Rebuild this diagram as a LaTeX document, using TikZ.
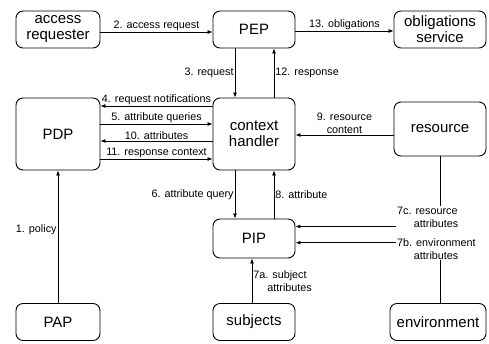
\documentclass[tikz,border=0pt]{standalone}
\usepackage{fontspec}
\setmainfont{Liberation Sans}
\usetikzlibrary{arrows.meta,calc}
\begin{document}
\begin{tikzpicture}[x=1pt,y=-1pt,
  box/.style={draw,line width=0.9pt,rounded corners=7pt,align=center,inner sep=0pt,
    font=\fontsize{15}{16}\selectfont},
  arr/.style={line width=0.8pt,-{Latex[length=5pt,width=4pt]}},
  ln/.style={line width=0.8pt},
  lbl/.style={font=\fontsize{10.8}{12.5}\selectfont,inner sep=1pt},
  lbl2/.style={lbl,font=\fontsize{10.8}{13}\selectfont},
]
\useasboundingbox (0,0) rectangle (489,343);
\node[box,minimum width=84pt,minimum height=37pt] (acc) at (58,29.5) {access\\requester};
\node[box,minimum width=82pt,minimum height=37pt] (pep) at (254,29.5) {PEP};
\node[box,minimum width=92pt,minimum height=37pt] (obl) at (440,29.5) {obligations\\service};
\node[box,minimum width=84pt,minimum height=72pt] (pdp) at (58,134) {PDP};
\node[box,minimum width=82pt,minimum height=72pt] (ch) at (254,134) {context\\handler};
\node[box,minimum width=92pt,minimum height=54pt] (res) at (440,129) {resource};
\node[box,minimum width=82pt,minimum height=39pt] (pip) at (254,238.5) {PIP};
\node[box,minimum width=84pt,minimum height=37pt] (pap) at (58,322) {PAP};
\node[box,minimum width=82pt,minimum height=37pt] (sub) at (254,322) {subjects};
\node[box,minimum width=96pt,minimum height=37pt] (env) at (438,322) {environment};

% 2 and 13
\draw[arr] ([yshift=-2.5pt]acc.east) -- node[lbl,above] {2. access request} ([yshift=-2.5pt]acc.east -| pep.west);
\draw[arr] ([yshift=-1.5pt]pep.east) -- node[lbl,above] {13. obligations} ([yshift=-1.5pt]pep.east -| obl.west);
% 3 and 12
\draw[arr] ([xshift=-19pt]pep.south) -- node[lbl,left] {3. request} ([xshift=-19pt]ch.north);
\draw[arr] ([xshift=20pt]ch.north) -- node[lbl,right] {12. response} ([xshift=20pt]pep.south);
% 4,5,10,11
\draw[arr] ([yshift=28pt]ch.west) -- node[lbl,above,inner sep=0.5pt] {4. request notifications} ([yshift=28pt]ch.west -| pdp.east);
\draw[arr] ([yshift=10pt]pdp.east) -- node[lbl,above,inner sep=0.5pt] {5. attribute queries} ([yshift=10pt]pdp.east -| ch.west);
\draw[arr] ([yshift=-7pt]ch.west) -- node[lbl,above,inner sep=0.5pt] {10. attributes} ([yshift=-7pt]ch.west -| pdp.east);
\draw[arr] ([yshift=-25pt]pdp.east) -- node[lbl,above,inner sep=0.5pt] {11. response context} ([yshift=-25pt]pdp.east -| ch.west);
% 9
\draw[arr] ([yshift=-6pt]res.west) -- node[lbl2,above,align=center] {9. resource\\content} ([yshift=-6pt]res.west -| ch.east);
% 6 and 8
\draw[arr] ([xshift=-19pt]ch.south) -- node[lbl,left,pos=0.5] {6. attribute query} ([xshift=-19pt]pip.north);
\draw[arr] ([xshift=20pt]pip.north) -- node[lbl,right,pos=0.5] {8. attribute} ([xshift=20pt]ch.south);
% 1
\draw[arr] (pap.north) -- node[lbl,left,pos=0.55] {1. policy} (pdp.south);
% 7a
\draw[arr] ([xshift=-2pt]sub.north) -- node[lbl2,right,align=left] {7a. subject\\\hspace*{1.3em}attributes} ([xshift=-2pt]pip.south);
% 7c and 7b
\node[lbl2,anchor=north west,align=left] (l7c) at (396,206) {7c. resource\\\hspace*{1.55em}attributes};
\node[lbl2,anchor=north west,align=left] (l7b) at (396,237) {7b. environment\\\hspace*{1.55em}attributes};
\draw[ln] (res.south) -- (res.south |- l7c.north);
\draw[ln] ([xshift=2pt]env.north) -- ([xshift=2pt]env.north |- l7b.south);
\draw[arr] ([yshift=-9pt]l7c.west) -- ([yshift=-9pt]l7c.west -| pip.east);
\draw[arr] ([yshift=6pt]l7b.west) -- ([yshift=6pt]l7b.west -| pip.east);
\end{tikzpicture}
\end{document}
